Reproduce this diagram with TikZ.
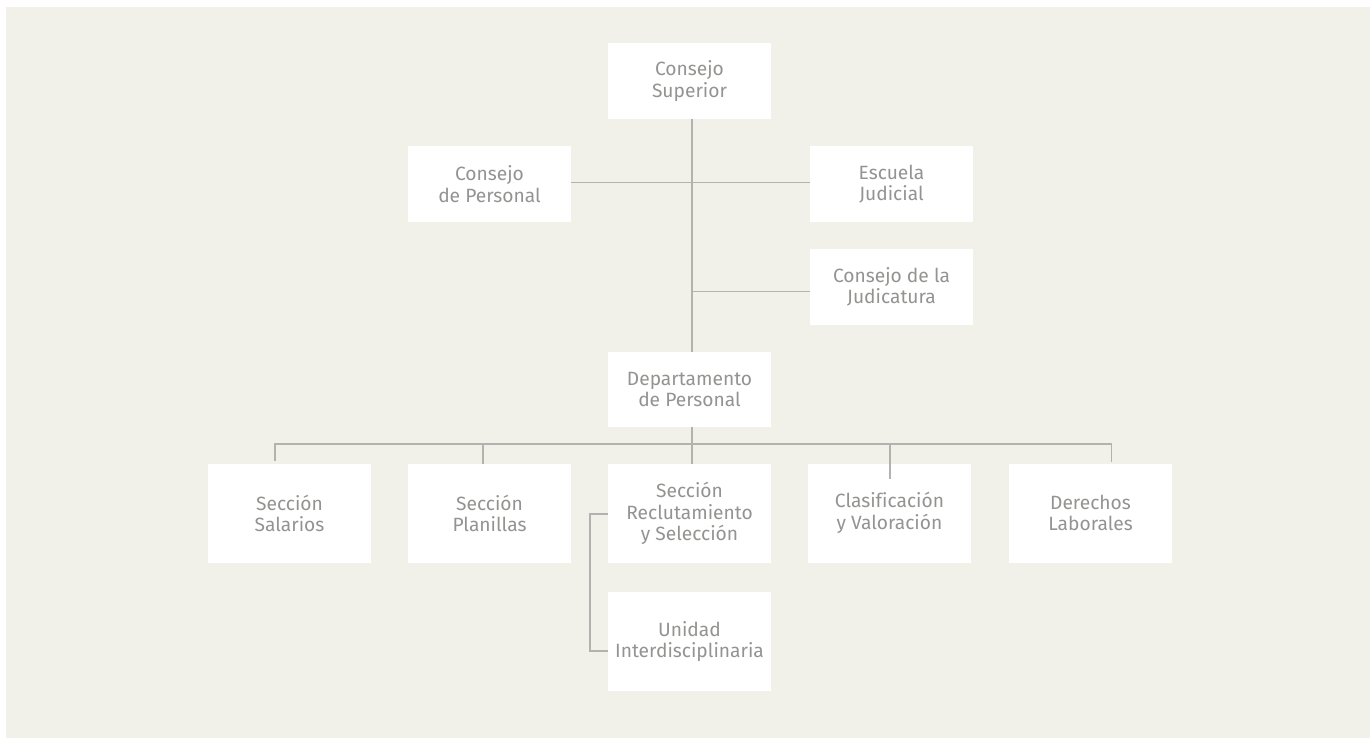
\documentclass[tikz,border=0pt]{standalone}
\usepackage{fontspec}
\setmainfont{Fira Sans}[Ligatures=NoCommon]
\definecolor{bgc}{HTML}{F1F0E9}
\definecolor{txt}{HTML}{939391}
\definecolor{ln}{HTML}{B2B2AE}
\begin{document}
\begin{tikzpicture}[x=1pt,y=-1pt,
  box/.style={fill=white,draw=none,minimum width=163pt,minimum height=76pt,inner sep=0pt,
    align=center,text=txt,font=\fontsize{19.2}{21.5}\selectfont},
  tall/.style={box,minimum height=99pt},
  conn/.style={draw=ln,line width=1.5pt}]
\useasboundingbox (0,0) rectangle (1370,738);
\fill[bgc] (6,7) rectangle (1370,738);
% nodes
\node[box] (cs) at (689.5,81) {Consejo\\Superior};
\node[box] (cp) at (489.5,184) {Consejo\\de Personal};
\node[box] (ej) at (891.5,184) {Escuela\\Judicial};
\node[box] (cj) at (891.5,287) {Consejo de la\\Judicatura};
\node[box,minimum height=75pt] (dp) at (689.5,389.5) {Departamento\\de Personal};
\node[tall] (ss) at (289.5,513.5) {Sección\\Salarios};
\node[tall] (sp) at (489.5,513.5) {Sección\\Planillas};
\node[tall] (rs) at (689.5,513.5) {Sección\\Reclutamiento\\y Selección};
\node[tall] (cv) at (889.5,513) {Clasificación\\y Valoración};
\node[tall] (dl) at (1090.5,513) {Derechos\\Laborales};
\node[tall] (ui) at (689.5,641.5) {Unidad\\Interdisciplinaria};
% trunk
\draw[conn] ([xshift=2.5pt]cs.south) -- ([xshift=2.5pt]dp.north);
\draw[conn] ([yshift=1.5pt]cp.east) -- ([yshift=1.5pt]ej.west);
\coordinate (tj) at (692,291.5);
\draw[conn] (tj) -- (tj -| cj.west);
% bus
\coordinate (b1) at (275,444);
\coordinate (b2) at (483,444);
\coordinate (b3) at (692,444);
\coordinate (b4) at (890,444);
\coordinate (b5) at (1111.5,444);
\draw[conn] ([xshift=2.5pt]dp.south) -- (b3);
\draw[conn] ([yshift=0.75pt]b1) -- (b1) -- (b5) -- ([yshift=0.75pt]b5);
\draw[conn] (b1) -- ++(0,17);
\draw[conn] (b2) -- (b2 |- sp.north);
\draw[conn] (b3) -- (b3 |- rs.north);
\draw[conn] (b4) -- ++(0,35);
\draw[conn] (b5) -- ++(0,18);
% unidad
\coordinate (u1) at (590,514);
\coordinate (u2) at (590,651);
\draw[conn] (rs.west |- u1) -- (u1) -- (u2) -- (u2 -| ui.west);
\end{tikzpicture}
\end{document}
